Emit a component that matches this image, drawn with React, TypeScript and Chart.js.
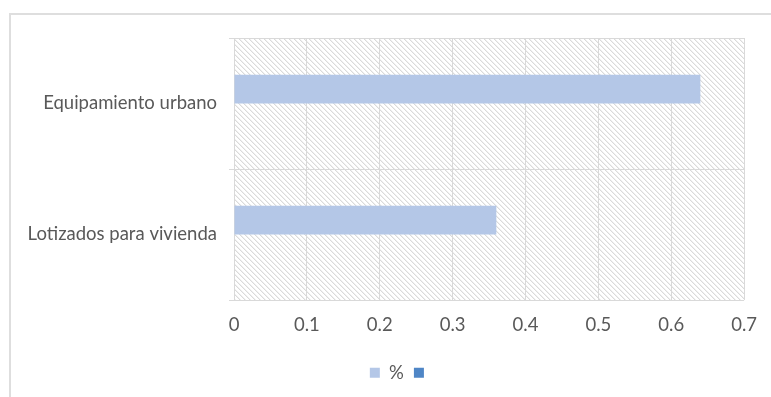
import React, { useEffect, useRef } from "react";
import { Chart, registerables } from "chart.js";

Chart.register(...registerables);

const categories = ["Equipamiento urbano", "Lotizados para vivienda"];
const percentValues = [0.64, 0.36];
const secondValues: (number | null)[] = [null, null];
const seriesLabels = ["%", ""];
const xTicks = [0, 0.1, 0.2, 0.3, 0.4, 0.5, 0.6, 0.7];

const FONT = "Lato, 'Open Sans', sans-serif";
const TEXT = "#595959";
const GRID = "#d9d9d9";
const FS = 18.5;

function makeHatch(): CanvasPattern | string {
  const n = 5;
  const c = document.createElement("canvas");
  c.width = n;
  c.height = n;
  const ctx = c.getContext("2d");
  if (!ctx) return "#fff";
  ctx.fillStyle = "#ffffff";
  ctx.fillRect(0, 0, n, n);
  for (let i = 0; i < n; i++) {
    ctx.fillStyle = "#dadada";
    ctx.fillRect(i, i, 1, 1);
    ctx.fillStyle = "#f0f0f0";
    ctx.fillRect((i + 1) % n, i, 1, 1);
  }
  const p = ctx.createPattern(c, "repeat");
  return p || "#fff";
}

const hatchPlugin = {
  id: "hatchBg",
  afterLayout(chart: any) {
    const lg = chart.legend;
    if (lg) {
      lg.left += 19;
      lg.right += 19;
    }
  },
  beforeDraw(chart: any) {
    const { ctx, chartArea } = chart;
    if (!chartArea) return;
    ctx.save();
    ctx.fillStyle = makeHatch();
    ctx.fillRect(
      chartArea.left,
      chartArea.top,
      chartArea.right - chartArea.left,
      chartArea.bottom - chartArea.top
    );
    ctx.restore();
  },
};

export default function App() {
  const ref = useRef<HTMLCanvasElement | null>(null);
  useEffect(() => {
    if (!ref.current) return;
    const chart = new Chart(ref.current, {
      type: "bar",
      data: {
        labels: categories,
        datasets: [
          {
            label: seriesLabels[0],
            data: percentValues,
            backgroundColor: "#b4c7e7",
            categoryPercentage: 0.44,
            barPercentage: 1,
          },
          {
            label: seriesLabels[1],
            data: secondValues as any,
            backgroundColor: "#4f86c6",
            categoryPercentage: 0.44,
            barPercentage: 1,
          },
        ],
      },
      options: {
        indexAxis: "y",
        animation: false,
        responsive: false,
        layout: { padding: { left: 20, right: 26, top: 38, bottom: 5 } },
        plugins: {
          tooltip: { enabled: false },
          legend: {
            position: "bottom",
            labels: {
              boxWidth: 10,
              boxHeight: 10,
              padding: 10,
              color: TEXT,
              font: { family: FONT, size: FS },
            },
          },
        },
        scales: {
          x: {
            type: "linear",
            min: 0,
            max: 0.7,
            afterBuildTicks(scale: any) {
              scale.ticks = xTicks.map((v) => ({ value: v }));
            },
            afterFit(scale: any) {
              scale.height = 53.5;
            },
            ticks: {
              color: TEXT,
              font: { family: FONT, size: FS },
              padding: 14,
              callback: (v: any) => String(Math.round(Number(v) * 10) / 10),
            },
            grid: { color: GRID, drawTicks: false, lineWidth: 1 },
            border: { display: false },
          },
          y: {
            type: "category",
            afterFit(scale: any) {
              scale.width = 214;
            },
            ticks: {
              color: TEXT,
              font: { family: FONT, size: FS },
              padding: 12,
            },
            grid: { color: GRID, offset: true, tickLength: 5, lineWidth: 1 },
            border: { display: true, color: GRID, width: 1 },
          },
        },
      },
      plugins: [hatchPlugin],
    });
    return () => chart.destroy();
  }, []);

  return (
    <div style={{ position: "fixed", left: 0, top: 0, width: 771, height: 397, background: "#fff", overflow: "hidden" }}>
      <div
        style={{
          position: "absolute",
          left: 9,
          top: 13,
          width: 800,
          height: 420,
          border: "2px solid #dedede",
          boxSizing: "border-box",
        }}
      />
      <canvas ref={ref} width={771} height={397} style={{ position: "absolute", left: 0, top: 0 }} />
    </div>
  );
}
